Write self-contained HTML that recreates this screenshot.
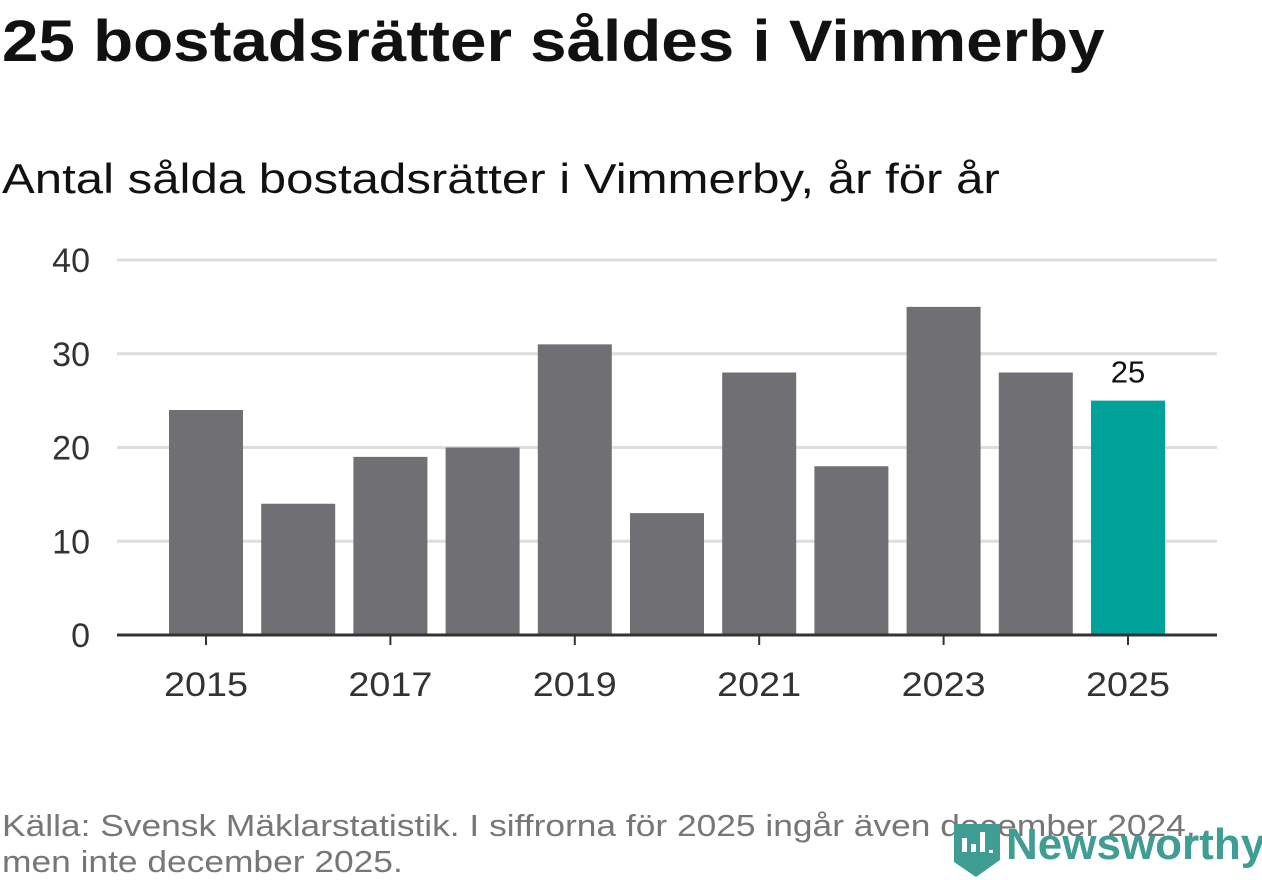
<!DOCTYPE html>
<html><head><meta charset="utf-8"><style>
body{margin:0;width:1262px;height:879px;background:#fff;font-family:"Liberation Sans","DejaVu Sans",sans-serif;position:relative;overflow:hidden}
.t{position:absolute;white-space:nowrap;transform-origin:0 0}
</style></head><body>
<div class="t" style="left:2px;top:8px;font-size:58px;font-weight:bold;color:#111;transform:scaleX(1.13)">25 bostadsrätter såldes i Vimmerby</div>
<div class="t" style="left:2px;top:155px;font-size:42px;color:#111;transform:scaleX(1.17)">Antal sålda bostadsrätter i Vimmerby, år för år</div>
<svg id="chart" width="1262" height="879" style="position:absolute;left:0;top:0"></svg>
<div class="t" style="left:2px;top:808px;font-size:31px;color:#777;line-height:36px;transform:scaleX(1.14)">Källa: Svensk Mäklarstatistik. I siffrorna för 2025 ingår även december 2024,<br>men inte december 2025.</div>
<div style="position:absolute;left:952px;top:822px;width:310px;height:57px">
<svg width="50" height="57" style="position:absolute;left:0;top:0"><path d="M2 2H48V38L24 55L2 40Z" fill="#3f9d94"/><rect x="10" y="16" width="5" height="14" fill="#fff"/><rect x="19" y="22" width="5" height="8" fill="#fff"/><rect x="28" y="10" width="5" height="20" fill="#fff"/><rect x="37" y="28" width="4" height="3" fill="#fff"/></svg>
<div class="t" style="left:54px;top:-2px;font-size:44px;font-weight:bold;color:#3f9d94">Newsworthy</div></div>
<script>
const categories=[2015,2016,2017,2018,2019,2020,2021,2022,2023,2024,2025];
const values=[24,14,19,20,31,13,28,18,35,28,25];
const yTicks=[0,10,20,30,40];
const xLabels=[2015,2017,2019,2021,2023,2025];
const NS="http://www.w3.org/2000/svg",svg=document.getElementById('chart');
const x0=117,x1=1217,yb=635,yt=260,ymax=40;
const first=206,lastC=1128;
const step=(lastC-first)/(categories.length-1);
const y=v=>yb-(v/ymax)*(yb-yt);
const xc=i=>first+step*i;
function mk(t,a){const e=document.createElementNS(NS,t);for(const k in a)e.setAttribute(k,a[k]);svg.appendChild(e);return e;}
yTicks.forEach(v=>{
 if(v>0){const l=mk('line',{x1:x0,x2:x1,y1:y(v),y2:y(v),stroke:'#ddd','stroke-width':3});
 
 }
 const t=mk('text',{x:90,y:y(v)+12,'text-anchor':'end','font-size':34,fill:'#333'});t.textContent=v;
 
 
});
categories.forEach((c,i)=>{
 const last=i===categories.length-1;
 const r=mk('rect',{x:xc(i)-37,width:74,y:y(values[i]),height:yb-y(values[i]),fill:last?'#00a29a':'#706f74'});
 
 
 if(last){const t=mk('text',{x:xc(i),y:y(values[i])-18,'text-anchor':'middle','font-size':31,fill:'#111'});t.textContent=values[i];
 
 }
 if(xLabels.includes(c)){
  mk('line',{x1:xc(i),x2:xc(i),y1:yb,y2:yb+10,stroke:'#333','stroke-width':2});
  const t=mk('text',{x:xc(i),y:696,'text-anchor':'middle','font-size':34,fill:'#333',textLength:84,lengthAdjust:'spacingAndGlyphs'});t.textContent=c;
  
  
 }
});
const ax=mk('line',{x1:x0,x2:x1,y1:yb,y2:yb,stroke:'#333','stroke-width':3});


</script>
</body></html>
